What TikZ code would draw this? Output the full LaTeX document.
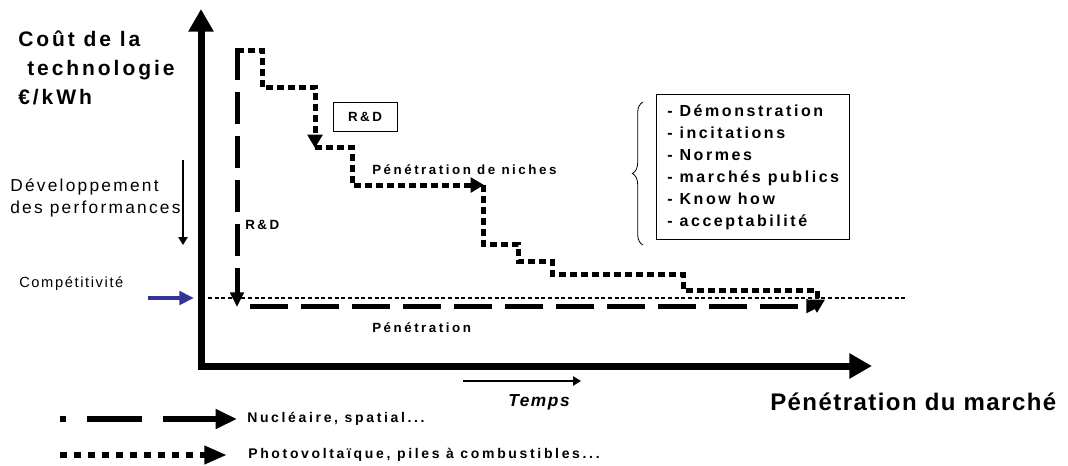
\documentclass[tikz,border=0pt]{standalone}
\usepackage{fontspec}
\setmainfont{Liberation Sans}
\newfontfamily\lsBig[LetterSpace=14]{Liberation Sans}
\newfontfamily\lsDev[LetterSpace=13]{Liberation Sans}
\newfontfamily\lsComp[LetterSpace=11]{Liberation Sans}
\newfontfamily\lsSmall[LetterSpace=19]{Liberation Sans}
\newfontfamily\lsBox[LetterSpace=16]{Liberation Sans}
\newfontfamily\lsTemps[LetterSpace=9]{Liberation Sans}
\newfontfamily\lsMarche[LetterSpace=6]{Liberation Sans}
\usetikzlibrary{arrows.meta,decorations.pathreplacing}
\definecolor{compblue}{RGB}{51,51,153}
\begin{document}
\begin{tikzpicture}[x=0.75pt,y=-0.75pt,
  axisline/.style={line width=5.25pt, line join=miter, line cap=butt},
  nucv/.style={line width=3.75pt, dash pattern=on 24pt off 9pt},
  nuch/.style={line width=3.75pt, dash pattern=on 28.5pt off 9.75pt, dash phase=28.5pt},
  pvline/.style={line width=3.75pt, line join=miter, dash pattern=on 5.25pt off 3pt},
  midtip/.style={-{Triangle[length=10pt,width=11pt]}},
  nuctip/.style={-{Triangle[length=11pt,width=10pt]}},
  compline/.style={line width=2.2pt, dash pattern=on 3pt off 2pt},
  thinarrow/.style={line width=1.1pt, -{Triangle[length=6pt,width=7pt]}},
  lbl/.style={inner sep=0pt, anchor=west},
  smallbold/.style={font=\lsSmall\bfseries\fontsize{10}{12}\selectfont},
  legendbold/.style={font=\lsSmall\bfseries\fontsize{10.5}{12}\selectfont},
]
\useasboundingbox (0,0) rectangle (1068,465);

% axes
\coordinate (ytop) at (201,9);
\coordinate (orig) at (201,366);
\coordinate (xend) at (872,366);
\draw[axisline, {Triangle[length=17pt,width=18pt]}-{Triangle[length=17pt,width=18pt]}] (ytop) -- (orig) -- (xend);

% competitiveness line
\coordinate (c0) at (208,298);
\coordinate (c1) at (905,298);
\draw[compline] (c0) -- (c1);
\coordinate (b0) at (148,298);
\coordinate (b1) at (194,298);
\draw[compblue, line width=3.5pt, -{Triangle[length=11pt,width=10pt]}] (b0) -- (b1);

% nuclear path
\coordinate (n0) at (237,48);
\coordinate (n1) at (237,307);
\coordinate (n2) at (821,306);
\draw[nucv, nuctip] (n0) -- (n1);
\draw[nuch, nuctip] (n1 |- n2) -- (n2);

% photovoltaic path
\coordinate (p0) at (237,50);
\coordinate (p1) at (262,50);
\coordinate (p2) at (262,87);
\coordinate (p3) at (315,87);
\coordinate (p4) at (315,148);
\coordinate (q1) at (352,147);
\coordinate (q2) at (352,185);
\coordinate (q3) at (484,185);
\coordinate (r0) at (483,185);
\coordinate (r1) at (483,244);
\coordinate (r2) at (518,244);
\coordinate (r3) at (518,261);
\coordinate (r4) at (552,261);
\coordinate (r5) at (552,274);
\coordinate (r6) at (683,274);
\coordinate (r7) at (683,290);
\coordinate (r8) at (817,290);
\coordinate (r9) at (817,313);
\draw[pvline, midtip] (p0) -- (p1) -- (p2) -- (p3) -- (p4);
\draw[pvline, midtip] (p4 |- q1) -- (q1) -- (q2) -- (q3);
\draw[pvline, midtip] (r0) -- (r1) -- (r2) -- (r3) -- (r4) -- (r5) -- (r6) -- (r7) -- (r8) -- (r9);

% left labels
\node[lbl, font=\lsBig\bfseries\fontsize{15.75}{18}\selectfont] (t1) at (18,39) {Coût de la};
\node[lbl, font=\lsBig\bfseries\fontsize{15.75}{18}\selectfont] (t2) at (27,70) {technologie};
\node[lbl, font=\lsBig\bfseries\fontsize{15.75}{18}\selectfont] (t3) at (18,97) {€/kWh};
\node[lbl, font=\lsDev\fontsize{13}{15}\selectfont] (dev1) at (10,187) {Développement};
\node[lbl, font=\lsDev\fontsize{13}{15}\selectfont] (dev2) at (10,209) {des performances};
\coordinate (d0) at (183,160);
\coordinate (d1) at (183,245);
\draw[thinarrow] (d0) -- (d1);
\node[lbl, font=\lsComp\fontsize{11}{13}\selectfont] (comp) at (19,284) {Compétitivité};

% inner labels
\node[draw, line width=0.75pt, minimum width=48pt, minimum height=21.75pt, inner sep=0pt, smallbold] (rdbox) at (365,116.5) {R\&D};
\node[lbl, smallbold] (rdv) at (245,225) {R\&D};
\node[lbl, smallbold] (niches) at (372,170) {Pénétration de niches};
\node[lbl, smallbold] (pen) at (372,328) {Pénétration};

% brace and box
\coordinate (br0) at (643,245);
\coordinate (br1) at (643,102);
\draw[line width=0.6pt, decorate, decoration={brace, amplitude=8pt}] (br0) -- (br1);
\node[draw, line width=0.75pt, minimum width=144.75pt, minimum height=108.75pt, inner sep=0pt] (box) at (752.5,166.5) {};
\node[lbl, align=left, font=\lsBox\bfseries\fontsize{12}{16.5}\selectfont] (boxtext) at (667,167.5)
  {- Démonstration\\- incitations\\- Normes\\- marchés publics\\- Know how\\- acceptabilité};

% time arrow
\coordinate (tm0) at (463,381);
\coordinate (tm1) at (581,381);
\draw[thinarrow] (tm0) -- (tm1);
\node[inner sep=0pt, font=\lsTemps\bfseries\itshape\fontsize{13}{15}\selectfont] (temps) at (539,402) {Temps};
\node[lbl, font=\lsMarche\bfseries\fontsize{18}{21}\selectfont] (marche) at (770,402) {Pénétration du marché};

% legend
\coordinate (l0) at (60,419);
\coordinate (l1) at (237,419);
\draw[line width=5pt, dash pattern=on 4.5pt off 15.75pt on 41.25pt off 15.75pt on 80pt off 1pt, -{Triangle[length=16pt,width=14pt]}] (l0) -- (l1);
\node[lbl, legendbold] (nuc) at (247,419) {Nucléaire, spatial...};
\coordinate (l2) at (60,455);
\coordinate (l3) at (227,455);
\draw[line width=5pt, dash pattern=on 5pt off 5.5pt, -{Triangle[length=17pt,width=13pt]}] (l2) -- (l3);
\node[lbl, legendbold] (pv) at (248,455) {Photovoltaïque, piles à combustibles...};
\end{tikzpicture}
\end{document}
